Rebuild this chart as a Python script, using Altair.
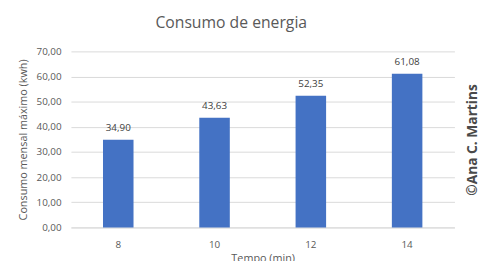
import altair as alt
import pandas as pd

tempo = ["8", "10", "12", "14"]
consumo = [34.90, 43.63, 52.35, 61.08]

df = pd.DataFrame({"tempo": tempo, "consumo": consumo})

FONT = "Open Sans"
GREY = "#595959"

xenc = alt.X("tempo:N", sort=tempo, title="Tempo (min)",
             scale=alt.Scale(paddingInner=0.683, paddingOuter=0.333),
             axis=alt.Axis(labelAngle=0, ticks=False, domainColor="#d9d9d9",
                           labelPadding=12, titlePadding=4, labelFontSize=10,
                           titleFontSize=11, labelColor=GREY, titleColor=GREY,
                           labelFont=FONT, titleFont=FONT, titleFontWeight="normal"))
yenc = alt.Y("consumo:Q", title="Consumo mensal máximo (kwh)",
             scale=alt.Scale(domain=[0, 70]),
             axis=alt.Axis(values=[0, 10, 20, 30, 40, 50, 60, 70], ticks=False,
                           domain=False, gridColor="#d9d9d9", labelOverlap=False,
                           labelExpr="replace(format(datum.value, '.2f'), '.', ',')",
                           labelPadding=10, titlePadding=8, labelFontSize=10,
                           titleFontSize=11, labelColor=GREY, titleColor=GREY,
                           labelFont=FONT, titleFont=FONT, titleFontWeight="normal"))

base = alt.Chart(df).transform_calculate(
    lab="replace(format(datum.consumo, '.2f'), '.', ',')"
).encode(x=xenc, y=yenc)

bars = base.mark_bar(color="#4472C4")

labels = base.mark_text(dy=-7, baseline="bottom", fontSize=10, color="#404040", font=FONT).encode(
    text="lab:N",
)

mark = alt.Chart(pd.DataFrame({"t": ["©Ana C. Martins"]})).mark_text(
    angle=270, fontSize=14, fontWeight="bold", color="#4a4a4a", font=FONT
).encode(x=alt.value(409), y=alt.value(90), text="t:N")

chart = alt.layer(bars, labels, mark).properties(
    width=390, height=179,
    title=alt.TitleParams("Consumo de energia", fontSize=16, font=FONT, color=GREY,
                          fontWeight="normal", anchor="middle", dx=-32, offset=16),
    autosize=alt.AutoSizeParams(type="none"),
    padding={"left": 64, "top": 42, "right": 27, "bottom": 32},
).configure_view(stroke=None)

chart.save("out.html", embed_options={"renderer": "svg", "actions": False})
